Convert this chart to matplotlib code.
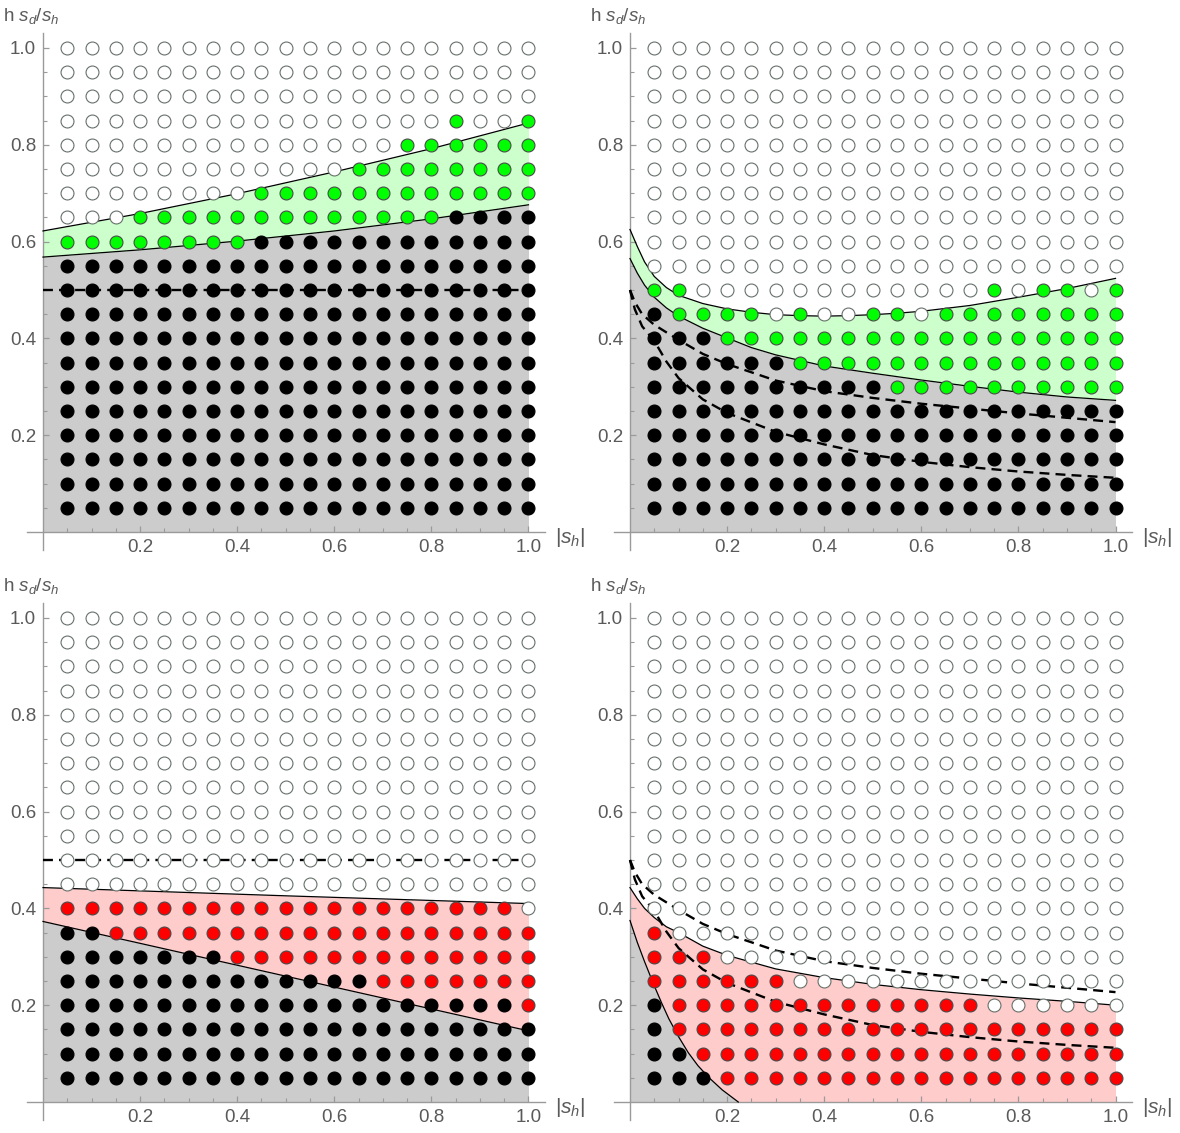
import numpy as np
import matplotlib
matplotlib.use('Agg')
import matplotlib.pyplot as plt
from matplotlib.ticker import FixedLocator, FormatStrFormatter

plt.rcParams['font.family'] = ['Liberation Sans', 'DejaVu Sans']
plt.rcParams['mathtext.fontset'] = 'custom'
plt.rcParams['mathtext.rm'] = 'Liberation Sans'
plt.rcParams['mathtext.it'] = 'Liberation Sans:italic'

# ---------------- data ----------------
x_vals = [0.05, 0.10, 0.15, 0.20, 0.25, 0.30, 0.35, 0.40, 0.45, 0.50,
          0.55, 0.60, 0.65, 0.70, 0.75, 0.80, 0.85, 0.90, 0.95, 1.00]
y_vals = [1.00, 0.95, 0.90, 0.85, 0.80, 0.75, 0.70, 0.65, 0.60, 0.55,
          0.50, 0.45, 0.40, 0.35, 0.30, 0.25, 0.20, 0.15, 0.10, 0.05]

# point classes per row (top row y=1.00 first), W=white, B=black, G=green, R=red
tl_rows = [
    "WWWWWWWWWWWWWWWWWWWW", "WWWWWWWWWWWWWWWWWWWW", "WWWWWWWWWWWWWWWWWWWW",
    "WWWWWWWWWWWWWWWWGWWG", "WWWWWWWWWWWWWWGGGGGG", "WWWWWWWWWWWWGGGGGGGG",
    "WWWWWWWWGGGGGGGGGGGG", "WWWGGGGGGGGGGGGGBBBB", "GGGGGGGGBBBBBBBBBBBB",
    "BBBBBBBBBBBBBBBBBBBB", "BBBBBBBBBBBBBBBBBBBB", "BBBBBBBBBBBBBBBBBBBB",
    "BBBBBBBBBBBBBBBBBBBB", "BBBBBBBBBBBBBBBBBBBB", "BBBBBBBBBBBBBBBBBBBB",
    "BBBBBBBBBBBBBBBBBBBB", "BBBBBBBBBBBBBBBBBBBB", "BBBBBBBBBBBBBBBBBBBB",
    "BBBBBBBBBBBBBBBBBBBB", "BBBBBBBBBBBBBBBBBBBB",
]
tr_rows = [
    "WWWWWWWWWWWWWWWWWWWW", "WWWWWWWWWWWWWWWWWWWW", "WWWWWWWWWWWWWWWWWWWW",
    "WWWWWWWWWWWWWWWWWWWW", "WWWWWWWWWWWWWWWWWWWW", "WWWWWWWWWWWWWWWWWWWW",
    "WWWWWWWWWWWWWWWWWWWW", "WWWWWWWWWWWWWWWWWWWW", "WWWWWWWWWWWWWWWWWWWW",
    "WWWWWWWWWWWWWWWWWWWW", "GGWWWWWWWWWWWWGWGGWG", "BGGGGWGWWGGWGGGGGGGG",
    "BBBGGGGGGGGGGGGGGGGG", "BBBBBBGGGGGGGGGGGGGG", "BBBBBBBBBBGGGGGGGGGG",
    "BBBBBBBBBBBBBBBBBBBB", "BBBBBBBBBBBBBBBBBBBB", "BBBBBBBBBBBBBBBBBBBB",
    "BBBBBBBBBBBBBBBBBBBB", "BBBBBBBBBBBBBBBBBBBB",
]
bl_rows = [
    "WWWWWWWWWWWWWWWWWWWW", "WWWWWWWWWWWWWWWWWWWW", "WWWWWWWWWWWWWWWWWWWW",
    "WWWWWWWWWWWWWWWWWWWW", "WWWWWWWWWWWWWWWWWWWW", "WWWWWWWWWWWWWWWWWWWW",
    "WWWWWWWWWWWWWWWWWWWW", "WWWWWWWWWWWWWWWWWWWW", "WWWWWWWWWWWWWWWWWWWW",
    "WWWWWWWWWWWWWWWWWWWW", "WWWWWWWWWWWWWWWWWWWW", "WWWWWWWWWWWWWWWWWWWW",
    "RRRRRRRRRRRRRRRRRRRW", "BBRRRRRRRRRRRRRRRRRR", "BBBBBBBRRRRRRRRRRRRR",
    "BBBBBBBBBBBBBRRRRRRR", "BBBBBBBBBBBBBBBBBBBR", "BBBBBBBBBBBBBBBBBBBB",
    "BBBBBBBBBBBBBBBBBBBB", "BBBBBBBBBBBBBBBBBBBB",
]
br_rows = [
    "WWWWWWWWWWWWWWWWWWWW", "WWWWWWWWWWWWWWWWWWWW", "WWWWWWWWWWWWWWWWWWWW",
    "WWWWWWWWWWWWWWWWWWWW", "WWWWWWWWWWWWWWWWWWWW", "WWWWWWWWWWWWWWWWWWWW",
    "WWWWWWWWWWWWWWWWWWWW", "WWWWWWWWWWWWWWWWWWWW", "WWWWWWWWWWWWWWWWWWWW",
    "WWWWWWWWWWWWWWWWWWWW", "WWWWWWWWWWWWWWWWWWWW", "WWWWWWWWWWWWWWWWWWWW",
    "WWWWWWWWWWWWWWWWWWWW", "RWWWWWWWWWWWWWWWWWWW", "RRRWWWWWWWWWWWWWWWWW",
    "RRRRRRWWWWWWWWWWWWWW", "BRRRRRRRRRRRRRWWWWWW", "BRRRRRRRRRRRRRRRRRRR",
    "BBRRRRRRRRRRRRRRRRRR", "BBBRRRRRRRRRRRRRRRRR",
]

# boundary curves
tl_up_x = [0.0, 0.2, 0.4, 0.6, 0.8, 1.0]
tl_up_y = [0.622, 0.658, 0.699, 0.744, 0.792, 0.845]
tl_lo_x = [0.0, 0.2, 0.4, 0.6, 0.8, 1.0]
tl_lo_y = [0.568, 0.583, 0.601, 0.622, 0.647, 0.676]

tr_up_x = [0.0, 0.015, 0.03, 0.05, 0.075, 0.1, 0.15, 0.2, 0.25, 0.3, 0.35, 0.4,
           0.45, 0.5, 0.55, 0.6, 0.7, 0.8, 0.9, 1.0]
tr_up_y = [0.625, 0.59, 0.558, 0.528, 0.505, 0.489, 0.472, 0.461, 0.454, 0.449,
           0.447, 0.446, 0.447, 0.449, 0.452, 0.456, 0.468, 0.485, 0.503, 0.524]
tr_lo_x = [0.0, 0.015, 0.03, 0.05, 0.075, 0.1, 0.15, 0.2, 0.25, 0.3, 0.4, 0.5,
           0.6, 0.7, 0.8, 0.9, 1.0]
tr_lo_y = [0.565, 0.535, 0.51, 0.485, 0.463, 0.446, 0.421, 0.401, 0.381, 0.366,
           0.343, 0.328, 0.314, 0.301, 0.289, 0.279, 0.272]

bl_up_x = [0.0, 0.5, 1.0]
bl_up_y = [0.443, 0.426, 0.410]
bl_lo_x = [0.0, 0.5, 1.0]
bl_lo_y = [0.373, 0.260, 0.147]

br_up_x = [0.0, 0.015, 0.03, 0.05, 0.075, 0.1, 0.15, 0.2, 0.3, 0.4, 0.5, 0.6,
           0.7, 0.8, 0.9, 1.0]
br_up_y = [0.443, 0.42, 0.40, 0.381, 0.362, 0.35, 0.322, 0.303, 0.275, 0.257,
           0.243, 0.232, 0.223, 0.215, 0.208, 0.2]
br_lo_x = [0.0, 0.015, 0.03, 0.05, 0.065, 0.08, 0.1, 0.12, 0.14, 0.163, 0.19, 0.223]
br_lo_y = [0.375, 0.33, 0.29, 0.24, 0.205, 0.172, 0.135, 0.102, 0.075, 0.05, 0.025, 0.0]

# dashed reference curves
flat_x = [0.0, 1.0]
flat_y = [0.5, 0.5]
du_x = [0.0, 0.01, 0.025, 0.05, 0.1, 0.15, 0.2, 0.3, 0.4, 0.5, 0.6, 0.7, 0.8, 0.9, 1.0]
du_y = [0.5, 0.475, 0.45, 0.428, 0.397, 0.368, 0.347, 0.313, 0.291, 0.277, 0.265,
        0.255, 0.245, 0.236, 0.227]
dl_x = [0.0, 0.01, 0.025, 0.05, 0.075, 0.1, 0.15, 0.2, 0.3, 0.4, 0.5, 0.6, 0.7,
        0.8, 0.9, 1.0]
dl_y = [0.5, 0.46, 0.425, 0.395, 0.352, 0.318, 0.274, 0.246, 0.207, 0.181, 0.159,
        0.145, 0.134, 0.125, 0.118, 0.112]

# ---------------- styling ----------------
GRAY_FILL = '#cccccc'
GREEN_FILL = '#ccffcc'
RED_FILL = '#ffcccc'
FACE = {'W': 'white', 'B': 'black', 'G': '#00ff00', 'R': '#ff0000'}
EDGE = {'W': '#66706a', 'B': 'black', 'G': '#4a4a4a', 'R': '#4a4a4a'}
AXCOL = '#9a9a9a'
TXTCOL = '#5a5a5a'

W, H = 1180, 1133
fig = plt.figure(figsize=(W / 100, H / 100), dpi=100)

XL = (-0.033, 1.035)
YL = (-0.037, 1.03)
SX, SY = 485.5, 484.0


def make_ax(x0, y0):
    left = x0 + XL[0] * SX
    wpx = (XL[1] - XL[0]) * SX
    bottom = y0 - YL[0] * SY
    hpx = (YL[1] - YL[0]) * SY
    ax = fig.add_axes([left / W, (H - bottom) / H, wpx / W, hpx / H])
    ax.set_xlim(*XL)
    ax.set_ylim(*YL)
    ax.patch.set_alpha(0)
    for s in ('top', 'right'):
        ax.spines[s].set_visible(False)
    for s in ('left', 'bottom'):
        ax.spines[s].set_position(('data', 0))
        ax.spines[s].set_color(AXCOL)
        ax.spines[s].set_linewidth(1.0)
    major = [0.2, 0.4, 0.6, 0.8, 1.0]
    minor = [v for v in x_vals if min(abs(v - m) for m in major) > 1e-6]
    ax.xaxis.set_major_locator(FixedLocator(major))
    ax.yaxis.set_major_locator(FixedLocator(major))
    ax.xaxis.set_minor_locator(FixedLocator(minor))
    ax.yaxis.set_minor_locator(FixedLocator(minor))
    ax.xaxis.set_major_formatter(FormatStrFormatter('%.1f'))
    ax.yaxis.set_major_formatter(FormatStrFormatter('%.1f'))
    ax.tick_params(which='major', direction='in', length=4.5, width=0.9,
                   color=AXCOL, labelcolor=TXTCOL, labelsize=13.5, pad=5)
    ax.tick_params(which='minor', direction='in', length=2.8, width=0.8, color=AXCOL)
    ax.text(1.054, -0.012, r'$|s_h|$', fontsize=15, color=TXTCOL,
            ha='left', va='center', clip_on=False)
    ax.text(-0.083, 1.066, r'h $s_d/s_h$', fontsize=13.5, color=TXTCOL,
            ha='left', va='center', clip_on=False)
    return ax


def draw_points(ax, rows):
    for cls in 'WBGR':
        xs, ys = [], []
        for yi, row in zip(y_vals, rows):
            for xi, c in zip(x_vals, row):
                if c == cls:
                    xs.append(xi)
                    ys.append(yi)
        if xs:
            ax.plot(xs, ys, 'o', ms=9.3, mfc=FACE[cls], mec=EDGE[cls],
                    mew=0.8, zorder=5, clip_on=False)


def draw_regions(ax, lo_x, lo_y, up_x, up_y, band_color):
    grid = np.linspace(0, 1, 401)
    lo = np.interp(grid, lo_x, lo_y, right=0.0)
    up = np.interp(grid, up_x, up_y)
    ax.fill_between(grid, 0, lo, color=GRAY_FILL, lw=0, zorder=1)
    ax.fill_between(grid, lo, up, color=band_color, lw=0, zorder=1)
    ax.plot(lo_x, lo_y, color='black', lw=0.9, zorder=3)
    ax.plot(up_x, up_y, color='black', lw=0.9, zorder=3)


def dashed(ax, xs, ys):
    ax.plot(xs, ys, color='black', lw=1.7, ls=(0, (4.2, 2.6)), zorder=4,
            solid_capstyle='butt', dash_capstyle='butt')


# top-left
ax = make_ax(43, 532)
draw_regions(ax, tl_lo_x, tl_lo_y, tl_up_x, tl_up_y, GREEN_FILL)
dashed(ax, flat_x, flat_y)
draw_points(ax, tl_rows)

# top-right
ax = make_ax(630, 532)
draw_regions(ax, tr_lo_x, tr_lo_y, tr_up_x, tr_up_y, GREEN_FILL)
dashed(ax, du_x, du_y)
dashed(ax, dl_x, dl_y)
draw_points(ax, tr_rows)

# bottom-left
ax = make_ax(43, 1102)
draw_regions(ax, bl_lo_x, bl_lo_y, bl_up_x, bl_up_y, RED_FILL)
dashed(ax, flat_x, flat_y)
draw_points(ax, bl_rows)

# bottom-right
ax = make_ax(630, 1102)
draw_regions(ax, br_lo_x, br_lo_y, br_up_x, br_up_y, RED_FILL)
dashed(ax, du_x, du_y)
dashed(ax, dl_x, dl_y)
draw_points(ax, br_rows)

fig.savefig('out.png', dpi=100)
